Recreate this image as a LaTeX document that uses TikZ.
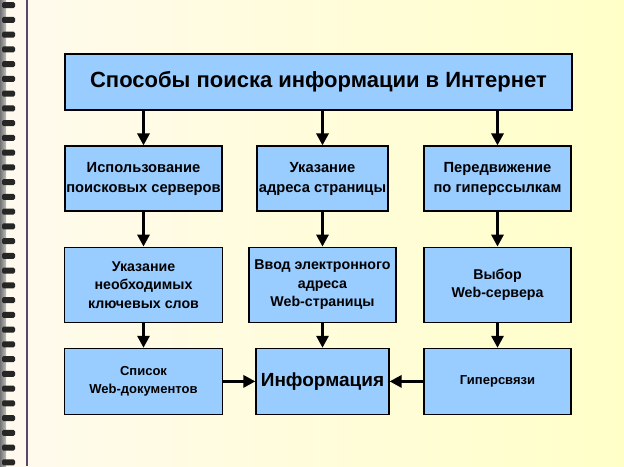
\documentclass[tikz,border=0pt]{standalone}
\usepackage{fontspec}
\setmainfont{Liberation Sans}
\usetikzlibrary{arrows.meta, positioning}
\definecolor{boxblue}{RGB}{153,204,255}
\definecolor{paperleft}{RGB}{255,250,238}
\definecolor{paperright}{RGB}{255,255,200}
\definecolor{marginline}{RGB}{90,70,110}
\tikzset{
  headbox/.style={rectangle, minimum width=507pt, minimum height=56pt,
    draw=black, line width=1.2pt, fill=boxblue,
    font=\bfseries\fontsize{22}{26}\selectfont},
  stepbox/.style={rectangle, minimum height=65pt, draw=black, line width=1.2pt,
    fill=boxblue, align=center, inner sep=1pt,
    font=\bfseries\fontsize{14.7}{20}\selectfont},
  midbox/.style={stepbox, minimum height=75pt,
    font=\bfseries\fontsize{14.2}{18.5}\selectfont},
  lowbox/.style={stepbox, minimum height=66pt,
    font=\bfseries\fontsize{13}{18.5}\selectfont},
  arrow/.style={-{Triangle[length=12pt,width=12pt]}, line width=3pt}
}
\begin{document}
\begin{tikzpicture}[x=1pt, y=1pt]
% page with the spiral binding
\shade[left color=paperleft, right color=paperright] (0,0) rectangle (624,-466);
\useasboundingbox (0,0) rectangle (624,-466);
\shade[left color=black!55, right color=black!25] (0,0) rectangle (6,-466);
\draw[marginline, line width=1.2pt] (27,0) -- (27,-466);
\foreach \i in {0,...,31}
  \fill[black!85, rounded corners=1.5pt] (2,{-2-14.75*\i}) rectangle (15,{-8-14.75*\i});

\node (title) [headbox] at (318.5,-82) {Способы поиска информации в Интернет};

\node (srv)    [stepbox, minimum width=157pt] at (143.5,-178.5)
               {Использование\\поисковых серверов};
\node (addr)   [stepbox, minimum width=131pt] at (322.5,-178.5)
               {Указание\\адреса страницы};
\node (hyp)    [stepbox, minimum width=147pt] at (497.5,-178.5)
               {Передвижение\\по гиперссылкам};
\node (keys)   [midbox, minimum width=158pt, below=35pt of srv]
               {Указание\\необходимых\\ключевых слов};
\node (input)  [midbox, minimum width=147pt, below=35pt of addr]
               {Ввод электронного\\адреса\\Web-страницы};
\node (choice) [midbox, minimum width=147pt, below=35pt of hyp]
               {Выбор\\Web-сервера};
\node (list)   [lowbox, minimum width=158pt, below=25pt of keys]
               {Список\\Web-документов};
\node (info)   [lowbox, minimum width=133pt, below=25pt of input,
                font=\bfseries\fontsize{19}{23}\selectfont] {Информация};
\node (links)  [lowbox, minimum width=147pt, below=25pt of choice] {Гиперсвязи};

\draw [arrow] (title.south -| srv)  -- (srv);
\draw [arrow] (title.south -| addr) -- (addr);
\draw [arrow] (title.south -| hyp)  -- (hyp);
\draw [arrow] (srv)    -- (keys);
\draw [arrow] (addr)   -- (input);
\draw [arrow] (hyp)    -- (choice);
\draw [arrow] (keys)   -- (list);
\draw [arrow] (input)  -- (info);
\draw [arrow] (choice) -- (links);
\draw [arrow] (list)   -- (info);
\draw [arrow] (links)  -- (info);
\end{tikzpicture}
\end{document}
